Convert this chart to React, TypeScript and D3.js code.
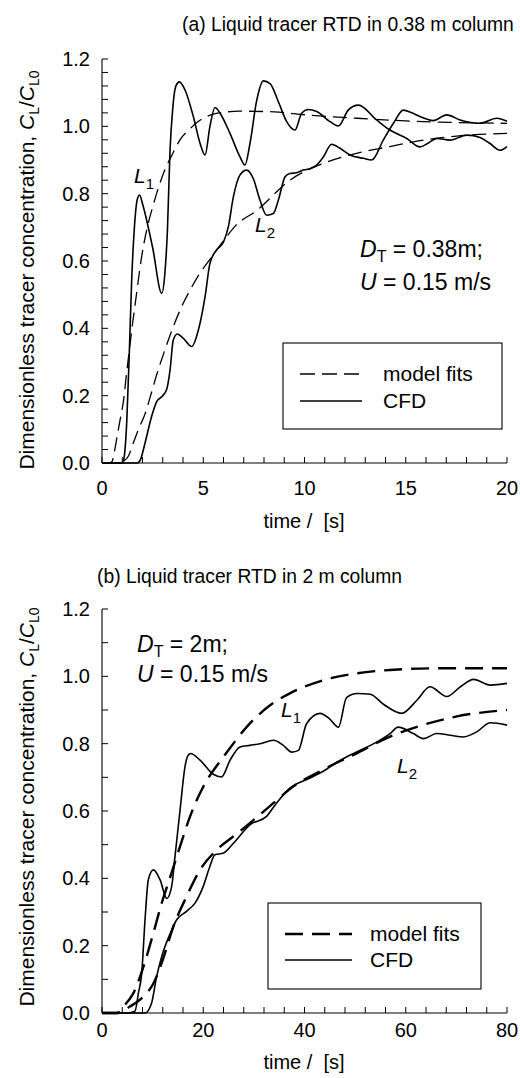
import React from "react";
import * as d3 from "d3";

type Pt = [number, number];

// ---------- Panel (a): 0.38 m column ----------
const aL1Cfd: Pt[] = [[0,0],[1.0,0],[1.1,0.02],[1.22,0.12],[1.35,0.33],[1.47,0.55],[1.6,0.7],[1.75,0.785],[1.86,0.796],[2.0,0.77],[2.5,0.64],[2.95,0.504],[3.1,0.56],[3.23,0.69],[3.36,0.93],[3.49,1.05],[3.65,1.12],[3.82,1.132],[4.1,1.108],[4.51,1.029],[4.84,0.95],[5.09,0.915],[5.33,1.0],[5.58,1.056],[5.83,1.039],[6.32,0.979],[6.81,0.91],[7.06,0.885],[7.31,0.95],[7.64,1.077],[7.97,1.135],[8.3,1.127],[8.71,1.073],[9.12,1.014],[9.53,0.989],[9.86,1.039],[10.19,1.05],[10.6,1.044],[11.26,1.014],[11.67,1.001],[12.17,1.049],[12.66,1.063],[13.56,1.019],[14.22,0.989],[15.05,0.964],[15.7,0.939],[16.1,0.95],[16.53,0.964],[17.19,0.959],[18.01,0.974],[18.67,0.967],[19.16,0.949],[19.65,0.929],[20,0.94]];
const aL2Cfd: Pt[] = [[0,0],[1.75,0],[1.9,0.01],[2.12,0.058],[2.45,0.138],[2.7,0.182],[3.0,0.2],[3.2,0.22],[3.36,0.276],[3.52,0.365],[3.72,0.383],[4.02,0.37],[4.43,0.346],[4.76,0.395],[5.09,0.494],[5.33,0.593],[5.66,0.633],[5.99,0.655],[6.24,0.702],[6.49,0.791],[6.81,0.855],[7.14,0.87],[7.47,0.845],[7.8,0.781],[8.13,0.736],[8.46,0.741],[8.71,0.781],[9.04,0.85],[9.28,0.86],[9.6,0.862],[9.94,0.87],[10.3,0.875],[10.6,0.885],[10.93,0.909],[11.34,0.947],[11.75,0.935],[12.25,0.915],[12.91,0.905],[13.32,0.9],[13.89,0.959],[14.39,1.009],[14.88,1.048],[15.3,1.04],[15.7,1.029],[16.36,1.017],[17.02,1.034],[17.68,1.019],[18.67,1.009],[19.49,1.024],[20,1.015]];
const aL1Model: Pt[] = [[0,0],[0.35,0],[0.5,0.005],[0.6,0.03],[0.75,0.08],[0.9,0.13],[1.05,0.18],[1.22,0.27],[1.47,0.395],[1.7,0.5],[1.95,0.61],[2.2,0.69],[2.5,0.76],[2.8,0.82],[3.1,0.87],[3.5,0.92],[3.85,0.96],[4.3,0.99],[4.7,1.012],[5.2,1.03],[5.7,1.039],[6.8,1.045],[8.5,1.043],[10.1,1.034],[12.6,1.024],[15.9,1.014],[20,1.009]];
const aL2Model: Pt[] = [[0,0],[0.9,0],[1.05,0.005],[1.3,0.02],[1.55,0.06],[1.8,0.1],[2.12,0.145],[2.4,0.2],[2.7,0.262],[3.1,0.335],[3.52,0.405],[3.9,0.46],[4.35,0.514],[4.85,0.565],[5.33,0.605],[6.0,0.66],[6.6,0.705],[7.64,0.75],[9.28,0.84],[10.93,0.89],[12.58,0.92],[14.22,0.94],[15.87,0.959],[17.52,0.971],[20,0.979]];

// ---------- Panel (b): 2 m column ----------
const bL1Cfd: Pt[] = [[0,0],[5,0],[6.5,0.005],[7.2,0.06],[7.84,0.117],[8.5,0.277],[9.15,0.396],[10.16,0.425],[11.46,0.396],[12.8,0.34],[13.76,0.376],[14.42,0.465],[15.4,0.6],[16.4,0.732],[16.9,0.762],[17.5,0.771],[19.36,0.751],[21.99,0.709],[23.6,0.701],[25.3,0.751],[27.26,0.79],[29.2,0.795],[31.2,0.8],[33.9,0.81],[35.8,0.795],[37.5,0.775],[38.8,0.78],[40.4,0.859],[43.06,0.89],[45.0,0.873],[46.7,0.849],[48.3,0.937],[50.4,0.949],[53.0,0.947],[55.6,0.917],[59.2,0.89],[62.2,0.929],[64.8,0.969],[68.1,0.94],[70.8,0.969],[73.4,0.991],[76.7,0.974],[80,0.979]];
const bL2Cfd: Pt[] = [[0,0],[8.5,0],[9.8,0.03],[10.8,0.109],[11.8,0.168],[13.5,0.237],[14.75,0.277],[16.7,0.302],[18.4,0.327],[20,0.376],[21.3,0.435],[22.3,0.47],[24,0.475],[26,0.505],[29.2,0.559],[32.5,0.584],[34.5,0.624],[37.1,0.668],[41.1,0.698],[43.7,0.718],[47.1,0.751],[50.4,0.776],[53.7,0.8],[56.9,0.83],[58.5,0.849],[61.5,0.83],[63.5,0.815],[66.1,0.83],[68.8,0.825],[71.4,0.82],[74.0,0.835],[76.7,0.862],[80,0.855]];
const bL1Model: Pt[] = [[0,0],[3,0],[4.2,0.019],[6.2,0.059],[8.18,0.137],[10.16,0.238],[11.8,0.327],[13.5,0.405],[15.4,0.494],[17.4,0.584],[20,0.672],[22.7,0.735],[24,0.761],[28.6,0.85],[33.2,0.914],[37.2,0.95],[43.8,0.989],[50.4,1.009],[56.9,1.019],[66.8,1.024],[80,1.024]];
const bL2Model: Pt[] = [[0,0],[3,0],[5.5,0.019],[8.2,0.049],[10.2,0.089],[11.8,0.149],[14.1,0.257],[16.7,0.346],[19.4,0.426],[22.7,0.485],[26.0,0.525],[29.2,0.564],[33.9,0.624],[37.1,0.665],[43.7,0.723],[50.4,0.772],[56.9,0.821],[63.5,0.856],[70.1,0.881],[80,0.9]];

const yTickLabels = ["0.0", "0.2", "0.4", "0.6", "0.8", "1.0", "1.2"];
const aXTickLabels = ["0", "5", "10", "15", "20"];
const bXTickLabels = ["0", "20", "40", "60", "80"];

const FONT = "'Liberation Sans', Arial, Helvetica, sans-serif";

interface PanelProps {
  top: number;
  bottom: number;
  xMax: number;
  xMinorStep: number;
  yMinorStep: number;
  xLabels: string[];
  xLabelBaseline: number;
  l1Cfd: Pt[];
  l2Cfd: Pt[];
  l1Model: Pt[];
  l2Model: Pt[];
  dash: string;
  dashWidth: number;
}

function Panel(p: PanelProps) {
  const left = 102, right = 507;
  const x = d3.scaleLinear().domain([0, p.xMax]).range([left, right]);
  const y = d3.scaleLinear().domain([0, 1.2]).range([p.bottom, p.top]);
  const line = d3.line<Pt>().x(d => x(d[0])).y(d => y(d[1])).curve(d3.curveMonotoneX);
  const xMinor = d3.range(0, p.xMax + 1e-9, p.xMinorStep);
  const yMinor = d3.range(0, 1.2 + 1e-9, p.yMinorStep);
  const tl = 6;
  return (
    <g>
      <line x1={left} x2={left} y1={p.top} y2={p.bottom} stroke="#000" strokeWidth={1.1} />
      <line x1={left} x2={right} y1={p.bottom} y2={p.bottom} stroke="#000" strokeWidth={1.1} />
      {xMinor.map((v, i) => (
        <line key={"xt" + i} x1={x(v)} x2={x(v)} y1={p.bottom} y2={p.bottom - tl} stroke="#000" strokeWidth={1} />
      ))}
      {yMinor.map((v, i) => (
        <line key={"yt" + i} x1={left} x2={left + tl} y1={y(v)} y2={y(v)} stroke="#000" strokeWidth={1} />
      ))}
      {yTickLabels.map(s => (
        <text key={"yl" + s} x={90} y={y(+s)} dy="0.35em" textAnchor="end" fontSize={20} fontFamily={FONT}>{s}</text>
      ))}
      {p.xLabels.map(s => (
        <text key={"xl" + s} x={x(+s)} y={p.xLabelBaseline} textAnchor="middle" fontSize={20} fontFamily={FONT}>{s}</text>
      ))}
      <path d={line(p.l1Model) || ""} fill="none" stroke="#000" strokeWidth={p.dashWidth} strokeDasharray={p.dash} />
      <path d={line(p.l2Model) || ""} fill="none" stroke="#000" strokeWidth={p.dashWidth} strokeDasharray={p.dash} />
      <path d={line(p.l1Cfd) || ""} fill="none" stroke="#000" strokeWidth={1.6} />
      <path d={line(p.l2Cfd) || ""} fill="none" stroke="#000" strokeWidth={1.6} />
    </g>
  );
}

function YLabel({ cx, cy }: { cx: number; cy: number }) {
  return (
    <text transform={`translate(${cx},${cy}) rotate(-90)`} textAnchor="middle" fontSize={21} fontFamily={FONT} style={{ whiteSpace: "pre" }}>
      <tspan>Dimensionless tracer concentration, </tspan>
      <tspan fontStyle="italic">C</tspan>
      <tspan fontSize={14} dy={5}>L</tspan>
      <tspan dy={-5}>/</tspan>
      <tspan fontStyle="italic">C</tspan>
      <tspan fontSize={14} dy={5}>L0</tspan>
    </text>
  );
}

function LLabel({ x, y, n }: { x: number; y: number; n: string }) {
  return (
    <text x={x} y={y} fontSize={21} fontFamily={FONT}>
      <tspan fontStyle="italic">L</tspan>
      <tspan fontSize={15} dy={6}>{n}</tspan>
    </text>
  );
}

function Params({ x, y1, y2, d }: { x: number; y1: number; y2: number; d: string }) {
  return (
    <g fontSize={23} fontFamily={FONT} style={{ whiteSpace: "pre" }}>
      <text x={x} y={y1}>
        <tspan fontStyle="italic">D</tspan>
        <tspan fontSize={16} dy={5}>T</tspan>
        <tspan dy={-5}>{` = ${d};`}</tspan>
      </text>
      <text x={x} y={y2}>
        <tspan fontStyle="italic">U</tspan>
        <tspan>{" = 0.15 m/s"}</tspan>
      </text>
    </g>
  );
}

function Legend({ x0, y0, x1, y1, lx0, lx1, tx, yDash, ySolid, dash, dashWidth }: any) {
  return (
    <g fontSize={21} fontFamily={FONT}>
      <rect x={x0} y={y0} width={x1 - x0} height={y1 - y0} fill="#fff" stroke="#000" strokeWidth={1.1} />
      <line x1={lx0} x2={lx1} y1={yDash} y2={yDash} stroke="#000" strokeWidth={dashWidth} strokeDasharray={dash} />
      <line x1={lx0} x2={lx1} y1={ySolid} y2={ySolid} stroke="#000" strokeWidth={1.6} />
      <text x={tx} y={yDash} dy="0.35em">model fits</text>
      <text x={tx} y={ySolid} dy="0.35em">CFD</text>
    </g>
  );
}

export default function App() {
  return (
    <svg width={520} height={1078} style={{ position: "absolute", left: 0, top: 0, background: "#fff" }}>
      <rect x={0} y={0} width={520} height={1078} fill="#fff" />
      {/* Panel a */}
      <text x={182} y={31} fontSize={19.3} fontFamily={FONT}>(a) Liquid tracer RTD in 0.38 m column</text>
      <YLabel cx={34} cy={270} />
      <Panel top={59} bottom={463} xMax={20} xMinorStep={1} yMinorStep={0.04} xLabels={aXTickLabels} xLabelBaseline={495}
        l1Cfd={aL1Cfd} l2Cfd={aL2Cfd} l1Model={aL1Model} l2Model={aL2Model} dash="14 7" dashWidth={1.3} />
      <LLabel x={134} y={183} n="1" />
      <LLabel x={255} y={232} n="2" />
      <Params x={360} y1={257} y2={290} d="0.38m" />
      <Legend x0={283} y0={343} x1={502} y1={429} lx0={300} lx1={362} tx={383} yDash={374} ySolid={401} dash="15 7" dashWidth={1.3} />
      <text x={304} y={528} textAnchor="middle" fontSize={20} fontFamily={FONT} style={{ whiteSpace: "pre" }}>time /  [s]</text>

      {/* Panel b */}
      <text x={97} y={583} fontSize={19.3} fontFamily={FONT}>(b) Liquid tracer RTD in 2 m column</text>
      <YLabel cx={34} cy={807} />
      <Panel top={609} bottom={1013} xMax={80} xMinorStep={4} yMinorStep={0.1} xLabels={bXTickLabels} xLabelBaseline={1037}
        l1Cfd={bL1Cfd} l2Cfd={bL2Cfd} l1Model={bL1Model} l2Model={bL2Model} dash="18 9" dashWidth={2.4} />
      <LLabel x={281} y={717} n="1" />
      <LLabel x={397} y={773} n="2" />
      <Params x={137} y1={652} y2={682} d="2m" />
      <Legend x0={268} y0={903} x1={481} y1={989} lx0={285} lx1={352} tx={370} yDash={934} ySolid={960} dash="18 9" dashWidth={2.4} />
      <text x={304} y={1069} textAnchor="middle" fontSize={20} fontFamily={FONT} style={{ whiteSpace: "pre" }}>time /  [s]</text>
    </svg>
  );
}
